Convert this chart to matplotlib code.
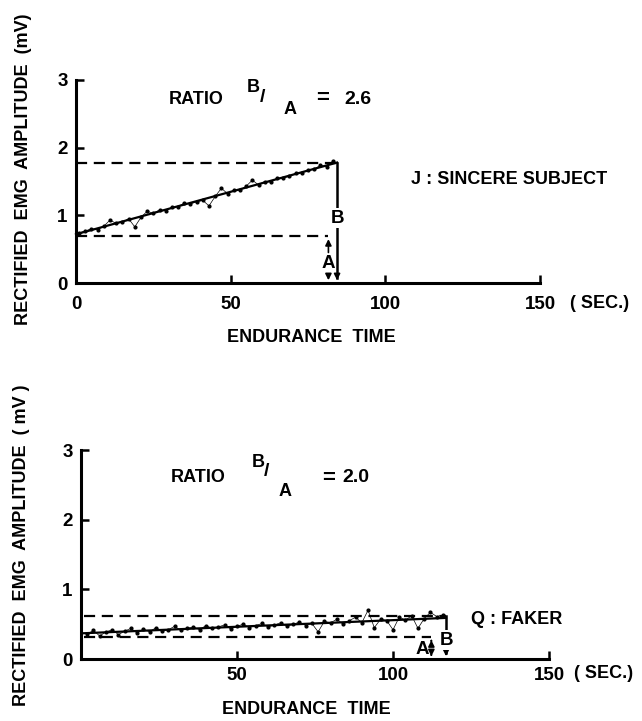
import matplotlib
matplotlib.use('Agg')
import matplotlib.pyplot as plt

plt.rcParams['font.family'] = ['Liberation Sans', 'DejaVu Sans']
plt.rcParams['font.weight'] = 'bold'

# ---------------- data ----------------
x_ticks_top = [0, 50, 100, 150]
x_ticks_bottom = [50, 100, 150]
y_ticks = [0, 1, 2, 3]

# J : sincere subject
top_time = [1, 3, 5, 7, 9, 11, 13, 15, 17, 19, 21, 23, 25, 27, 29, 31, 33, 35, 37, 39, 41,
            43, 45, 47, 49, 51, 53, 55, 57, 59, 61, 63, 65, 67, 69, 71, 73, 75, 77, 79, 81, 83]
top_emg = [0.74, 0.77, 0.80, 0.79, 0.84, 0.93, 0.88, 0.90, 0.95, 0.83, 0.97, 1.06, 1.03, 1.08,
           1.07, 1.12, 1.13, 1.18, 1.17, 1.20, 1.22, 1.14, 1.28, 1.40, 1.32, 1.37, 1.37, 1.43,
           1.52, 1.45, 1.50, 1.49, 1.55, 1.55, 1.58, 1.62, 1.63, 1.67, 1.68, 1.74, 1.72, 1.80]
top_fit_time = [0, 84.4]
top_fit_emg = [0.72, 1.78]
top_A, top_B = 0.69, 1.78
top_end = 84.4
top_A_x = 81.6

# Q : faker
bottom_time = list(range(2, 117, 2))
bottom_emg = [0.36, 0.41, 0.33, 0.39, 0.42, 0.35, 0.40, 0.44, 0.37, 0.43,
              0.39, 0.45, 0.40, 0.42, 0.47, 0.41, 0.44, 0.46, 0.42, 0.48,
              0.44, 0.46, 0.49, 0.43, 0.47, 0.50, 0.45, 0.48, 0.51, 0.46,
              0.49, 0.52, 0.47, 0.50, 0.53, 0.48, 0.51, 0.39, 0.54, 0.52,
              0.57, 0.50, 0.55, 0.60, 0.52, 0.70, 0.45, 0.57, 0.55, 0.42,
              0.60, 0.56, 0.62, 0.44, 0.58, 0.67, 0.61, 0.63]
bottom_fit_time = [1, 117]
bottom_fit_emg = [0.37, 0.59]
bottom_A, bottom_B = 0.31, 0.62
bottom_end = 117
bottom_A_x = 112.3

# ---------------- figure ----------------
W, H = 642, 721
fig = plt.figure(figsize=(W / 100, H / 100), dpi=100)


def px_rect(l, r, t, b):
    return [l / W, 1 - b / H, (r - l) / W, (b - t) / H]


def ftext(x, y, s, **kw):
    kw.setdefault('fontsize', 13)
    kw.setdefault('va', 'center')
    fig.text(x / W, 1 - y / H, s, **kw)


ax1 = fig.add_axes(px_rect(76, 540, 80, 283))
ax2 = fig.add_axes(px_rect(81, 549, 450, 659))

LW = 2.2
for ax, xt in ((ax1, x_ticks_top), (ax2, x_ticks_bottom)):
    ax.set_xlim(0, 150)
    ax.set_ylim(0, 3)
    ax.patch.set_alpha(0)
    for s in ('top', 'right'):
        ax.spines[s].set_visible(False)
    for s in ('left', 'bottom'):
        ax.spines[s].set_linewidth(LW)
    ax.set_xticks(xt)
    ax.set_xticklabels([str(v) for v in xt])
    ax.set_yticks(y_ticks)
    ax.set_yticklabels([str(v) for v in y_ticks])
    ax.tick_params(axis='both', direction='in', length=6, width=1.8, labelsize=13.5)
    ax.tick_params(axis='y', pad=6)

ax1.tick_params(axis='x', pad=9)
ax2.tick_params(axis='x', pad=6)

ARROW = dict(arrowstyle='-|>', color='black', lw=1.2, mutation_scale=9)


def draw_panel(ax, t, v, ft, fv, A, B, end, ax_x, a_lab_x, a_lab_y, b_lab_y, a_start, gap):
    ax.plot(t, v, color='black', lw=0.5, marker='.', ms=4, clip_on=False)
    ax.plot(ft, fv, color='black', lw=1.6, clip_on=False)
    ax.plot([a_start, end], [B, B], color='black', lw=1.6, ls=(0, (5, 3)), clip_on=False)
    ax.plot([a_start, ax_x], [A, A], color='black', lw=1.6, ls=(0, (5, 3)), clip_on=False)
    # B arrow
    ax.plot([end, end], [0.08, B], color='black', lw=1.8, clip_on=False)
    ax.annotate('', xy=(end, 0.0), xytext=(end, 0.15), arrowprops=ARROW)
    ax.text(end, b_lab_y, 'B', fontsize=13.5, ha='center', va='center',
            bbox=dict(facecolor='white', edgecolor='none', pad=1))
    # A arrows
    ax.annotate('', xy=(ax_x, A), xytext=(ax_x, a_lab_y + gap), arrowprops=ARROW)
    ax.annotate('', xy=(ax_x, 0.0), xytext=(ax_x, max(a_lab_y - gap, 0.1)), arrowprops=ARROW)
    ax.text(a_lab_x, a_lab_y, 'A', fontsize=13.5, ha='center', va='center')


draw_panel(ax1, top_time, top_emg, top_fit_time, top_fit_emg, top_A, top_B,
           top_end, top_A_x, top_A_x, 0.29, 0.96, 0, 0.12)
draw_panel(ax2, bottom_time, bottom_emg, bottom_fit_time, bottom_fit_emg, bottom_A,
           bottom_B, bottom_end, bottom_A_x, 109.5, 0.14, 0.27, 1, 0.08)

# ---------------- texts ----------------
# top panel
ftext(169, 100, 'RATIO')
ftext(253, 88, 'B', ha='center')
ftext(263, 97, '/', ha='center', fontsize=14)
ftext(290, 110, 'A', ha='center')
ftext(323, 99, '=', ha='center', fontsize=16)
ftext(344, 100, '2.6', fontsize=14)
ftext(411, 180, 'J : SINCERE SUBJECT')
ftext(570, 303, '( SEC.)')
ftext(311, 337, 'ENDURANCE  TIME', ha='center')
ftext(24, 169, 'RECTIFIED  EMG  AMPLITUDE  (mV)', ha='center', rotation=90)

# bottom panel
ftext(171, 478, 'RATIO')
ftext(258, 462, 'B', ha='center')
ftext(267, 472, '/', ha='center', fontsize=14)
ftext(285, 491, 'A', ha='center')
ftext(329, 478, '=', ha='center', fontsize=16)
ftext(342, 478, '2.0', fontsize=14)
ftext(471, 619, 'Q : FAKER')
ftext(574, 674, '( SEC.)')
ftext(306, 709, 'ENDURANCE  TIME', ha='center')
ftext(22, 545, 'RECTIFIED  EMG  AMPLITUDE  ( mV )', ha='center', rotation=90)

fig.savefig('out.png', dpi=100)
